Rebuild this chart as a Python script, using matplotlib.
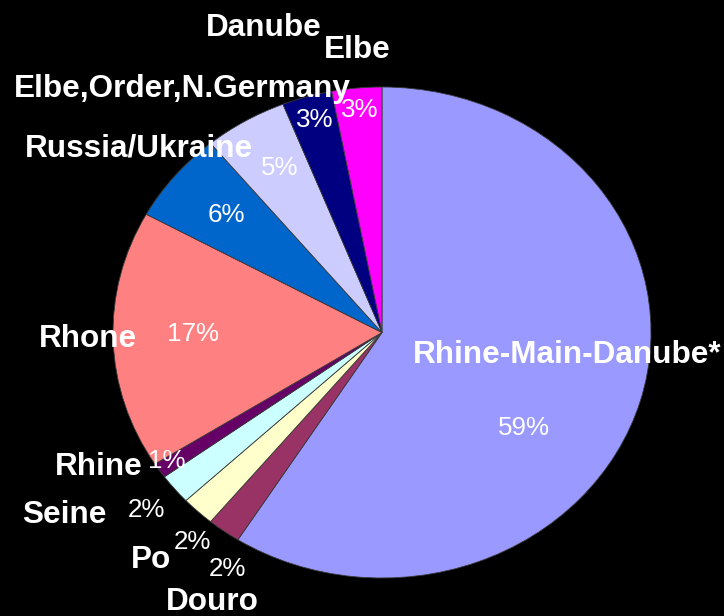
import matplotlib.pyplot as plt

rivers = ["Rhine-Main-Danube*", "Douro", "Po", "Seine", "Rhine", "Rhone",
          "Russia/Ukraine", "Elbe,Order,N.Germany", "Danube", "Elbe"]
shares = [59, 2, 2, 2, 1, 17, 6, 5, 3, 3]
colors = ["#9999FF", "#993366", "#FFFFCC", "#CCFFFF", "#660066", "#FF8080",
          "#0066CC", "#CCCCFF", "#000080", "#FF00FF"]

# label and percentage baseline positions (axes data units, pie radius = 1)
name_pos = [(0.688, -0.124), (-0.632, -1.130), (-0.859, -0.959), (-1.182, -0.776),
            (-1.054, -0.580), (-1.093, -0.059), (-0.903, 0.715), (-0.743, 0.959),
            (-0.439, 1.208), (-0.093, 1.118)]
pct_pos = [(0.528, -0.418), (-0.576, -0.992), (-0.706, -0.882), (-0.874, -0.752),
           (-0.799, -0.552), (-0.703, -0.035), (-0.580, 0.450), (-0.379, 0.641),
           (-0.249, 0.837), (-0.082, 0.878)]

plt.rcParams['font.family'] = ['Liberation Sans', 'DejaVu Sans']

fig = plt.figure(figsize=(7.24, 6.16), dpi=100, facecolor="black")
ax = fig.add_axes([113 / 724, 38 / 616, 538 / 724, 491 / 616])
ax.set_facecolor("black")

ax.pie(shares, colors=colors, startangle=90, counterclock=False,
       wedgeprops=dict(edgecolor="#3a3a3a", linewidth=0.6))
ax.set_aspect("auto")
ax.set_xlim(-1, 1)
ax.set_ylim(-1, 1)
ax.axis("off")

for name, (x, y) in zip(rivers, name_pos):
    ax.text(x, y, name, color="white", fontsize=22.7, fontweight="bold",
            ha="center", va="baseline", clip_on=False)

for v, (x, y) in zip(shares, pct_pos):
    ax.text(x, y, f"{v}%", color="white", fontsize=18.7,
            ha="center", va="baseline", clip_on=False)

fig.savefig("out.png", dpi=100, facecolor="black")
